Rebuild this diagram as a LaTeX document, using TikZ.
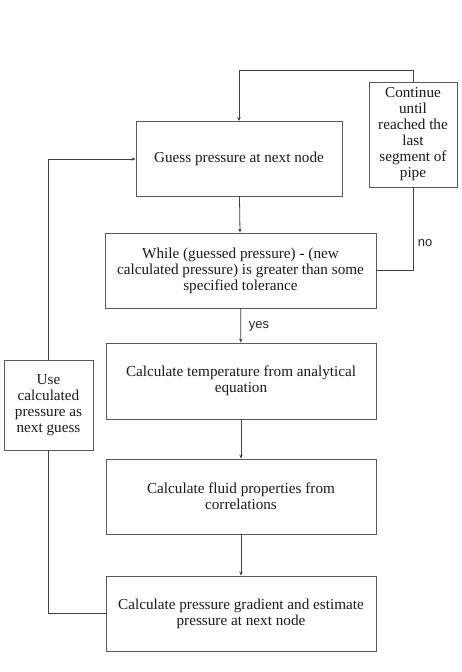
\documentclass[tikz,border=0pt]{standalone}
\usepackage{fontspec}
\setmainfont{Liberation Serif}
\newfontfamily\lblfont{Liberation Sans}
\usetikzlibrary{arrows.meta}
\begin{document}
\begin{tikzpicture}[x=1pt,y=-1pt,
  box/.style={draw=black!65,line width=0.9pt,rectangle,align=center,inner sep=1pt,
    font=\fontsize{15.2}{16}\selectfont,text=black!90},
  conn/.style={draw=black!75,line width=0.8pt},
  arr/.style={conn,-{Stealth[length=4pt,width=3.5pt]}},
  lbl/.style={font=\lblfont\fontsize{13}{15}\selectfont,text=black!85}]
\useasboundingbox (0,0) rectangle (462,672);
\node[box,minimum width=206pt,minimum height=75pt] (guess) at (239,159) {Guess pressure at next node};
\node[box,minimum width=88pt,minimum height=105pt] (cont) at (413,134.5) {Continue\\until\\reached the\\last\\segment of\\pipe};
\node[box,minimum width=271pt,minimum height=75pt] (while) at (240.5,270.5) {While (guessed pressure) - (new\\calculated pressure) is greater than some\\specified tolerance};
\node[box,minimum width=270pt,minimum height=76pt] (temp) at (241,381) {Calculate temperature from analytical\\equation};
\node[box,minimum width=89pt,minimum height=90pt] (use) at (48.5,405) {Use\\calculated\\pressure as\\next guess};
\node[box,minimum width=270pt,minimum height=75pt] (fluid) at (241,496.5) {Calculate fluid properties from\\correlations};
\node[box,minimum width=270pt,minimum height=75pt] (grad) at (241,613.5) {Calculate pressure gradient and estimate\\pressure at next node};
\coordinate (top) at (0,70);
\draw[arr] (cont.north) -- (cont.north |- top) -| (guess.north);
\draw[conn] (while.east) -| (cont.south);
\draw[arr] (guess) -- (while);
\draw[arr] (while) -- (temp);
\draw[arr] (temp) -- (fluid);
\draw[arr] (fluid) -- (grad);
\draw[conn] (grad.west) -| (use.south);
\draw[arr] (use.north) |- (guess.west);
\node[lbl] (no) at (425,243) {no};
\node[lbl] (yes) at (259,326) {yes};
\end{tikzpicture}
\end{document}
